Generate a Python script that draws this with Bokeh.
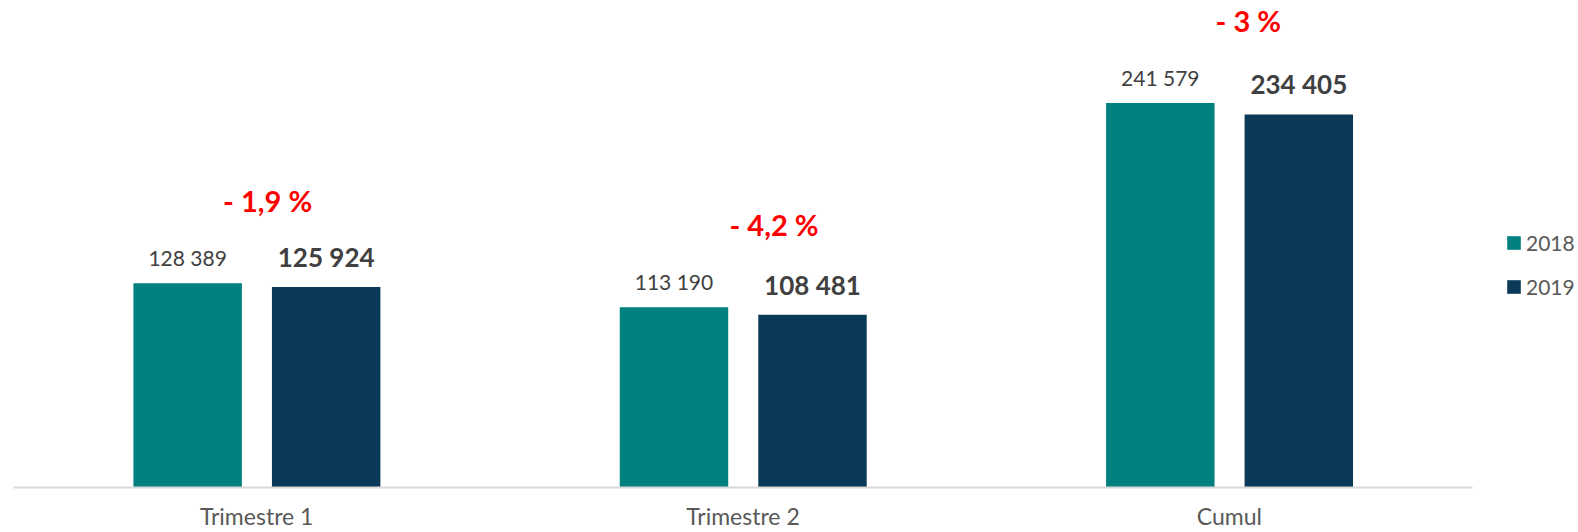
from bokeh.plotting import figure
from bokeh.models import ColumnDataSource, Range1d, Legend, LegendItem, FixedTicker
from bokeh.core.properties import value
from bokeh.embed import file_html
from bokeh.resources import INLINE

categories = ["Trimestre 1", "Trimestre 2", "Cumul"]
v2018 = [128389, 113190, 241579]
v2019 = [125924, 108481, 234405]
pct_labels = ["- 1,9 %", "- 4,2 %", "- 3 %"]
series_names = ["2018", "2019"]

# style-only offsets for the red change labels (pixels)
pct_dx = [11, 31, 19]

def fmt(v):
    return f"{v:,}".replace(",", " ")

# category slots: each category occupies one unit, centred at i + 0.5
centers = [i + 0.5 for i in range(len(categories))]
OFF1, OFF2, BW = -0.1419, 0.1429, 0.223

src = ColumnDataSource(dict(
    xc=centers,
    x1=[c + OFF1 for c in centers],
    x2=[c + OFF2 for c in centers],
    v2018=v2018,
    v2019=v2019,
    l2018=[fmt(v) for v in v2018],
    l2019=[fmt(v) for v in v2019],
    pct=pct_labels,
    dx=pct_dx,
))

TEAL = "#00807F"
NAVY = "#0A3A57"
FONT = "Lato"

W, H = 1578, 532
LEFT = 13
UNIT_PX = 486.33
p = figure(
    x_range=Range1d(0, (W - LEFT) / UNIT_PX),
    y_range=Range1d(0, 306000),
    width=W, height=H,
    min_border_left=LEFT, min_border_right=0, min_border_top=0, min_border_bottom=43,
    output_backend="svg", toolbar_location=None,
)
p.outline_line_color = None
p.background_fill_color = "white"
p.xgrid.visible = False
p.ygrid.visible = False
p.yaxis.visible = False

r1 = p.vbar(x="x1", top="v2018", width=BW, source=src, fill_color=TEAL, line_color=None)
r2 = p.vbar(x="x2", top="v2019", width=BW, source=src, fill_color=NAVY, line_color=None)

p.text(x="x1", y="v2018", text="l2018", source=src,
       text_align="center", text_baseline="middle", y_offset=-26,
       text_font=value(FONT), text_font_size="21px", text_color="#404040")
p.text(x="x2", y="v2019", text="l2019", source=src,
       text_align="center", text_baseline="middle", y_offset=-30,
       text_font=value(FONT), text_font_size="26px", text_font_style="bold",
       text_color="#404040")
p.text(x="xc", y="v2018", text="pct", source=src, x_offset="dx",
       text_align="center", text_baseline="middle", y_offset=-83,
       text_font=value(FONT), text_font_size="29px", text_font_style="bold",
       text_color="#FF0000")

ax = p.xaxis[0]
ax.ticker = FixedTicker(ticks=centers)
ax.major_label_overrides = {c: name for c, name in zip(centers, categories)}
ax.bounds = (0, len(categories))
ax.axis_line_color = "#D9D9D9"
ax.axis_line_width = 2
ax.major_tick_line_color = None
ax.minor_tick_line_color = None
ax.major_tick_out = 0
ax.major_tick_in = 0
ax.major_label_standoff = 14
ax.major_label_text_font = FONT
ax.major_label_text_font_size = "23px"
ax.major_label_text_color = "#595959"

legend = Legend(items=[LegendItem(label=series_names[0], renderers=[r1]),
                       LegendItem(label=series_names[1], renderers=[r2])],
                location=(1492, 188), orientation="vertical",
                glyph_width=17, glyph_height=17, label_standoff=4, spacing=19,
                padding=0, margin=0, border_line_color=None, background_fill_alpha=0,
                label_text_font=FONT, label_text_font_size="21px", label_text_color="#595959")
p.add_layout(legend, "center")

open("out.html", "w").write(file_html(p, INLINE))
